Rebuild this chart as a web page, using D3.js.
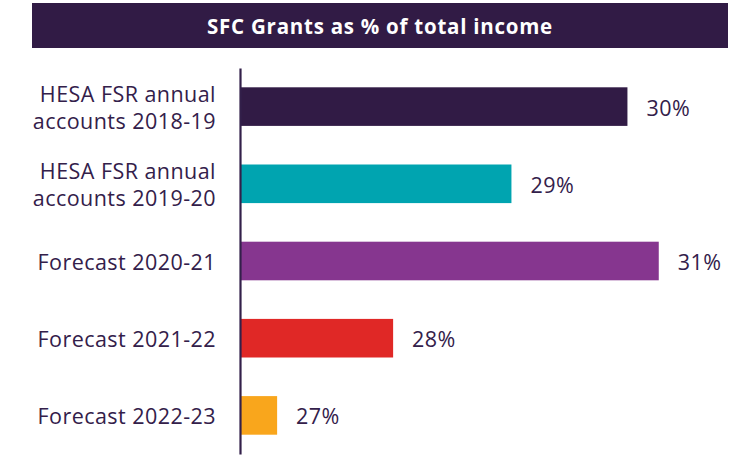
<!DOCTYPE html>
<html>
<head>
<meta charset="utf-8">
<script src="https://cdn.jsdelivr.net/npm/d3@7"></script>
<style>
  body { margin: 0; background: #fff; }
  text { font-family: "Open Sans", sans-serif; }
</style>
</head>
<body>
<svg id="chart" width="731" height="473"></svg>
<script>
var title = "SFC Grants as % of total income";

var categories = [
  "HESA FSR annual accounts 2018-19",
  "HESA FSR annual accounts 2019-20",
  "Forecast 2020-21",
  "Forecast 2021-22",
  "Forecast 2022-23"
];
// % of total income (labels are rounded)
var values = [30.34, 29.34, 30.61, 28.32, 27.32];
var colors = ["#311b45", "#00a4b0", "#86368f", "#e02826", "#f9a61c"];

var ink = "#33204a",
    format = d3.format(".0f");

var svg = d3.select("#chart");

var x = d3.scaleLinear()
    .domain([27, 31])
    .range([240, 704]);

var y = d3.scaleBand()
    .domain(categories)
    .range([68, 454])
    .paddingInner(0.5)
    .paddingOuter(0.25);

// title banner
svg.append("rect")
    .attr("x", 32)
    .attr("y", 3)
    .attr("width", 696)
    .attr("height", 45)
    .attr("fill", colors[0]);

svg.append("text")
    .attr("x", 380)
    .attr("y", 34)
    .attr("text-anchor", "middle")
    .attr("fill", "#fff")
    .attr("font-weight", "bold")
    .attr("font-size", 20.5)
    .attr("letter-spacing", 0.75)
    .text(title);

svg.selectAll(".bar")
    .data(values)
  .enter().append("rect")
    .attr("class", "bar")
    .attr("x", x(27))
    .attr("y", function(d, i) { return y(categories[i]); })
    .attr("width", function(d) { return x(d) - x(27); })
    .attr("height", y.bandwidth())
    .attr("fill", function(d, i) { return colors[i]; });

svg.selectAll(".value")
    .data(values)
  .enter().append("text")
    .attr("class", "value")
    .attr("x", function(d) { return x(d) + 19; })
    .attr("y", function(d, i) { return y(categories[i]) + y.bandwidth() / 2 + 9; })
    .attr("fill", ink)
    .attr("font-size", 21.5)
    .attr("letter-spacing", 0.45)
    .text(function(d) { return format(d) + "%"; });

var axis = svg.append("g")
    .attr("transform", "translate(" + x(27) + ",0)")
    .call(d3.axisLeft(y).tickSize(0).tickSizeOuter(0).tickPadding(24));

axis.select(".domain")
    .attr("stroke", ink)
    .attr("stroke-width", 2.2);

axis.selectAll(".tick text").each(function(d) {
  var t = d3.select(this),
      lines = d.split(/(?<=annual) /);
  t.text(null)
      .attr("dy", null)
      .attr("fill", ink)
      .attr("font-size", 21.5)
      .attr("letter-spacing", 0.45)
      .attr("font-family", "'Open Sans', sans-serif");
  lines.forEach(function(line, i) {
    t.append("tspan")
        .attr("x", -24)
        .attr("y", lines.length > 1 ? (i == 0 ? -5 : 22.5) : 9)
        .text(line);
  });
});
</script>
</body>
</html>
